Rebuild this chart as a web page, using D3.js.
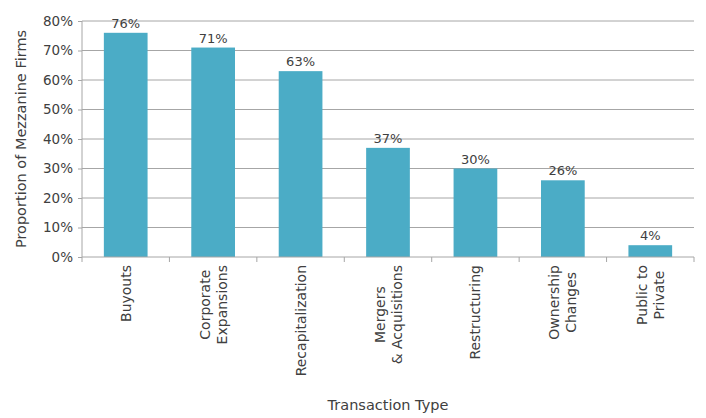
<!DOCTYPE html>
<html>
  <head>
    <script src="https://cdn.jsdelivr.net/npm/d3@7"></script>
    <style>
      body { margin: 0; background: #fff; }
      text { font-family: "DejaVu Sans", sans-serif; fill: #404040; }
    </style>
  </head>
  <body>
    <svg id="chart" width="706" height="418"></svg>
    <script>
    var categories = ["Buyouts", "Corporate\nExpansions", "Recapitalization", "Mergers\n& Acquisitions",
                      "Restructuring", "Ownership\nChanges", "Public to\nPrivate"];
    var values = [76, 71, 63, 37, 30, 26, 4];
    var yTicks = [0, 10, 20, 30, 40, 50, 60, 70, 80];

    var svg = d3.select("#chart");
    var mLeft = 82, mRight = 694, mTop = 21, mBottom = 257;

    var x = d3.scaleBand().domain(categories).range([mLeft, mRight]).paddingInner(0.5).paddingOuter(0.25);
    var y = d3.scaleLinear().domain([0, 80]).range([mBottom, mTop]);

    // gridlines
    svg.append("g").selectAll("line")
      .data(yTicks.filter(function(d){ return d > 0; }))
      .enter().append("line")
      .attr("x1", mLeft).attr("x2", mRight)
      .attr("y1", function(d){ return y(d); }).attr("y2", function(d){ return y(d); })
      .attr("stroke", "#a6a6a6").attr("stroke-width", 1);

    // bars
    svg.append("g").selectAll("rect")
      .data(values)
      .enter().append("rect")
      .attr("x", function(d, i){ return x(categories[i]); })
      .attr("width", x.bandwidth())
      .attr("y", function(d){ return y(d); })
      .attr("height", function(d){ return y(0) - y(d); })
      .attr("fill", "#4bacc6");

    // value labels
    svg.append("g").selectAll("text")
      .data(values)
      .enter().append("text")
      .attr("x", function(d, i){ return x(categories[i]) + x.bandwidth() / 2; })
      .attr("y", function(d){ return y(d) - 5; })
      .attr("text-anchor", "middle")
      .style("font-size", "13px")
      .text(function(d){ return d + "%"; });

    // y axis
    var yAxis = svg.append("g")
      .attr("transform", "translate(" + mLeft + ",0)")
      .call(d3.axisLeft(y).tickValues(yTicks).tickSize(4).tickPadding(5).tickFormat(function(d){ return d + "%"; }));
    yAxis.select(".domain").attr("stroke", "#a6a6a6").attr("d", "M0," + mTop + "V" + mBottom);
    yAxis.selectAll(".tick line").attr("stroke", "#a6a6a6");
    yAxis.selectAll("text").style("font-size", "13.5px").attr("fill", "#404040").style("font-family", null);

    // x axis line and ticks at band boundaries
    var xg = svg.append("g");
    xg.append("line").attr("x1", mLeft).attr("x2", mRight).attr("y1", mBottom).attr("y2", mBottom)
      .attr("stroke", "#a6a6a6");
    var step = x.step();
    xg.selectAll("line.tk")
      .data(d3.range(categories.length + 1))
      .enter().append("line").attr("class", "tk")
      .attr("x1", function(i){ return mLeft + i * step; })
      .attr("x2", function(i){ return mLeft + i * step; })
      .attr("y1", mBottom).attr("y2", mBottom + 5)
      .attr("stroke", "#a6a6a6");

    // category labels, rotated
    categories.forEach(function(c, i){
      var lines = c.split("\n");
      var cx = x(c) + x.bandwidth() / 2;
      var g = svg.append("g");
      var texts = lines.map(function(l){
        return g.append("text").style("font-size", "14px").attr("text-anchor", "middle").text(l);
      });
      var maxLen = d3.max(texts, function(t){ return t.node().getComputedTextLength(); });
      var cy = 265 + maxLen / 2;
      var lh = 17;
      texts.forEach(function(t, j){
        var off = (j - (lines.length - 1) / 2) * lh;
        t.attr("transform", "translate(" + (cx + off + 5) + "," + cy + ") rotate(-90)");
      });
    });

    // axis titles
    svg.append("text")
      .attr("x", (mLeft + mRight) / 2).attr("y", 410)
      .attr("text-anchor", "middle")
      .style("font-size", "14.5px")
      .text("Transaction Type");

    svg.append("text")
      .attr("transform", "translate(26," + ((mTop + mBottom) / 2) + ") rotate(-90)")
      .attr("text-anchor", "middle")
      .style("font-size", "14.5px")
      .text("Proportion of Mezzanine Firms");
    </script>
  </body>
</html>
